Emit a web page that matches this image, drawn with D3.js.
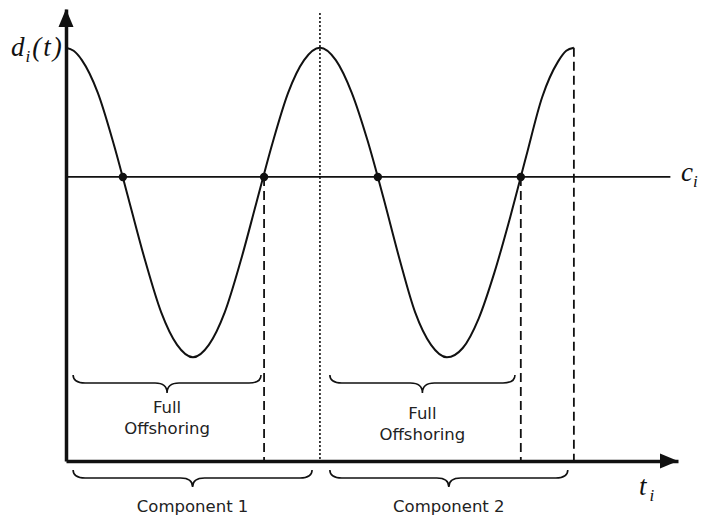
<!DOCTYPE html>
<html>
<head>
<meta charset="utf-8">
<script src="https://cdn.jsdelivr.net/npm/d3@7"></script>
<style>
  html, body { margin: 0; padding: 0; background: #fff; }
  svg { display: block; }
  .math { font-family: "Liberation Serif", "DejaVu Serif", serif; font-style: italic; font-size: 27px; fill: #111; }
  .note { font-family: "DejaVu Sans", sans-serif; font-size: 16.5px; fill: #222; }
</style>
</head>
<body>
<svg id="chart" width="702" height="516"></svg>
<script>
// curve d_i(t), one unit of t = one cycle
const curveT = [0, 0.03, 0.0625, 0.125, 0.1875, 0.25, 0.3125, 0.375, 0.4375, 0.5,
  0.5625, 0.625, 0.6875, 0.75, 0.8125, 0.875, 0.9375, 1,
  1.0625, 1.125, 1.1875, 1.25, 1.3125, 1.375, 1.4375, 1.5,
  1.5625, 1.625, 1.6875, 1.75, 1.8125, 1.875, 1.9375, 1.97, 2];
const curveD = [1, 0.98, 0.92, 0.71, 0.38, 0, -0.38, -0.71, -0.92, -1,
  -0.92, -0.71, -0.38, 0, 0.38, 0.71, 0.92, 1,
  0.92, 0.71, 0.4, 0.03, -0.36, -0.71, -0.92, -1,
  -0.94, -0.75, -0.45, -0.09, 0.3, 0.68, 0.91, 0.98, 1];

const cLevel = 0.165;
const cLineEnd = 2.38;
const crossT = [0.224, 0.78, 1.228, 1.791];
const dashedT = [0.78, 1.791];
const endT = 2;
const dottedT = 1;
const dottedTop = 1.224;

const offshoring = [
  { from: 0.028, to: 0.768, lines: ["Full", "Offshoring"], shift: 0 },
  { from: 1.039, to: 1.768, lines: ["Full", "Offshoring"], shift: 6 },
];
const components = [
  { from: 0.028, to: 0.969, label: "Component 1" },
  { from: 1.039, to: 1.976, label: "Component 2" },
];

const svg = d3.select("#chart");
const x = d3.scaleLinear().domain([0, 2.41]).range([66, 678]);
const y = d3.scaleLinear().domain([-1.67, 1.25]).range([461, 9]);

// axes (no ticks) + arrowheads
svg.append("g")
  .attr("transform", `translate(0,${y(-1.67)})`)
  .call(d3.axisBottom(x).ticks(0).tickSizeOuter(0));
svg.append("g")
  .attr("transform", `translate(${x(0)},0)`)
  .call(d3.axisLeft(y).ticks(0).tickSizeOuter(0));
svg.selectAll(".domain").attr("stroke", "#111").attr("stroke-width", 3.5);

const ax0 = x(0), ay0 = y(-1.67);
svg.append("path")
  .attr("d", `M${x(2.41)},${ay0} L${x(2.41) - 18},${ay0 - 7.5} L${x(2.41) - 18},${ay0 + 7.5} Z`)
  .attr("fill", "#111");
svg.append("path")
  .attr("d", `M${ax0},${y(1.25)} L${ax0 - 7.5},${y(1.25) + 18} L${ax0 + 7.5},${y(1.25) + 18} Z`)
  .attr("fill", "#111");

// reference level c_i
svg.append("line")
  .attr("x1", x(0)).attr("x2", x(cLineEnd))
  .attr("y1", y(cLevel)).attr("y2", y(cLevel))
  .attr("stroke", "#111").attr("stroke-width", 1.8);

// dotted separator between components
svg.append("line")
  .attr("x1", x(dottedT)).attr("x2", x(dottedT))
  .attr("y1", y(dottedTop)).attr("y2", ay0)
  .attr("stroke", "#111").attr("stroke-width", 1.6)
  .attr("stroke-dasharray", "2,2");

// dashed drops
svg.selectAll(".drop")
  .data(dashedT)
  .join("line")
  .attr("class", "drop")
  .attr("x1", (t) => x(t)).attr("x2", (t) => x(t))
  .attr("y1", y(cLevel)).attr("y2", ay0)
  .attr("stroke", "#111").attr("stroke-width", 1.8)
  .attr("stroke-dasharray", "9,5");
svg.append("line")
  .attr("x1", x(endT)).attr("x2", x(endT))
  .attr("y1", y(1)).attr("y2", ay0)
  .attr("stroke", "#111").attr("stroke-width", 1.8)
  .attr("stroke-dasharray", "9,5");

// the curve
const line = d3.line()
  .x((d, i) => x(curveT[i]))
  .y((d) => y(d))
  .curve(d3.curveMonotoneX);
svg.append("path")
  .attr("d", line(curveD))
  .attr("fill", "none")
  .attr("stroke", "#111")
  .attr("stroke-width", 2);

svg.selectAll(".cross")
  .data(crossT)
  .join("circle")
  .attr("class", "cross")
  .attr("cx", (t) => x(t))
  .attr("cy", y(cLevel))
  .attr("r", 4.2)
  .attr("fill", "#111");

// curly braces
function bracePath(x1, x2, y0, y1, y2) {
  const xm = (x1 + x2) / 2;
  const r = 12;
  return `M${x1},${y0} Q${x1},${y1} ${x1 + r},${y1} L${xm - r},${y1} Q${xm},${y1} ${xm},${y2}`
    + ` M${xm},${y2} Q${xm},${y1} ${xm + r},${y1} L${x2 - r},${y1} Q${x2},${y1} ${x2},${y0}`;
}

svg.selectAll(".brace-off")
  .data(offshoring)
  .join("path")
  .attr("class", "brace-off")
  .attr("d", (b) => bracePath(x(b.from), x(b.to), 375, 383, 393))
  .attr("fill", "none").attr("stroke", "#111").attr("stroke-width", 1.6);

svg.selectAll(".off-label")
  .data(offshoring)
  .join("text")
  .attr("class", "note off-label")
  .attr("text-anchor", "middle")
  .attr("x", (b) => (x(b.from) + x(b.to)) / 2)
  .attr("y", (b) => 413 + b.shift)
  .selectAll("tspan")
  .data((b) => b.lines.map((l) => ({ l, cx: (x(b.from) + x(b.to)) / 2 })))
  .join("tspan")
  .attr("x", (d) => d.cx)
  .attr("dy", (d, i) => (i === 0 ? 0 : 21))
  .text((d) => d.l);

svg.selectAll(".brace-comp")
  .data(components)
  .join("path")
  .attr("class", "brace-comp")
  .attr("d", (b) => bracePath(x(b.from), x(b.to), 470, 478, 487))
  .attr("fill", "none").attr("stroke", "#111").attr("stroke-width", 1.6);

svg.selectAll(".comp-label")
  .data(components)
  .join("text")
  .attr("class", "note comp-label")
  .attr("text-anchor", "middle")
  .attr("x", (b) => (x(b.from) + x(b.to)) / 2)
  .attr("y", 512)
  .text((b) => b.label);

// math labels
const dLabel = svg.append("text").attr("class", "math").attr("x", 11).attr("y", 56);
dLabel.append("tspan").text("d");
dLabel.append("tspan").attr("font-size", 17).attr("dy", 6).attr("dx", 1).text("i");
dLabel.append("tspan").attr("dy", -6).attr("dx", 2).attr("letter-spacing", 2).text("(t)");

const cLabel = svg.append("text").attr("class", "math").attr("x", 681).attr("y", 181);
cLabel.append("tspan").text("c");
cLabel.append("tspan").attr("font-size", 17).attr("dy", 6).text("i");

const tLabel = svg.append("text").attr("class", "math").attr("x", 639).attr("y", 495);
tLabel.append("tspan").text("t");
tLabel.append("tspan").attr("font-size", 17).attr("dy", 6).attr("dx", 3).text("i");
</script>
</body>
</html>
